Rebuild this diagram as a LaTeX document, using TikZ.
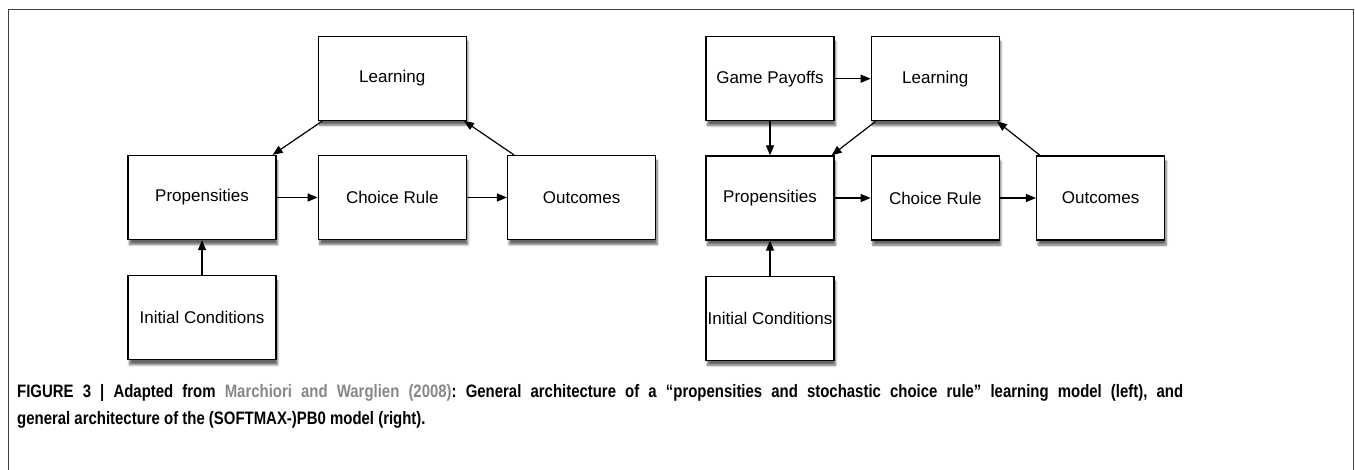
\documentclass[tikz,border=0pt]{standalone}
\usepackage{fontspec}
\setmainfont{Liberation Sans}
\newfontfamily\capfont[FakeStretch=0.83]{Liberation Sans}
\usetikzlibrary{positioning,arrows.meta,shadows.blur}
\definecolor{citegray}{RGB}{135,135,135}
\frenchspacing
\tikzset{
  block/.style={draw, line width=1.3pt, fill=white, minimum width=148pt,
    minimum height=84pt, inner sep=0pt, font=\fontsize{17}{20}\selectfont,
    blur shadow={shadow xshift=1.5pt, shadow yshift=-5pt, shadow blur steps=8, shadow opacity=60}},
  narrow/.style={block, minimum width=128pt},
  link/.style={-{Triangle[length=10pt,width=8pt]}, line width=1.2pt},
  capline/.style={anchor=base west, inner sep=0pt, font=\capfont\bfseries\fontsize{18}{21}\selectfont}
}
\begin{document}
\begin{tikzpicture}[x=1pt,y=1pt]
\useasboundingbox (0,0) rectangle (1355,-470);
\draw [black!75, line width=1pt] (8,-471) -- (8,-10) -- (1353,-10) -- (1353,-471);
% left model
\node (propL) [block] at (202,-197.5) {Propensities};
\node (choiceL) [block, right=41pt of propL] {Choice Rule};
\node (outL) [block, right=40pt of choiceL] {Outcomes};
\node (learnL) [block, above=34pt of choiceL] {Learning};
\node (initL) [block, below=35pt of propL] {Initial Conditions};
\draw [link] (propL) -- (choiceL);
\draw [link] (choiceL) -- (outL);
\draw [link] (initL) -- (propL);
\draw [link] ([xshift=5pt]learnL.south west) -- ([xshift=-4pt]propL.north east);
\draw [link] ([xshift=7pt]outL.north west) -- ([xshift=-3pt]learnL.south east);
% right model (PB0)
\node (propR) [narrow] at (770,-198) {Propensities};
\node (choiceR) [narrow, right=36pt of propR] {Choice Rule};
\node (outR) [narrow, right=36pt of choiceR] {Outcomes};
\node (learnR) [narrow, above=34pt of choiceR] {Learning};
\node (gameR) [narrow, above=34pt of propR] {Game Payoffs};
\node (initR) [narrow, below=35pt of propR] {Initial Conditions};
\draw [link] (propR) -- (choiceR);
\draw [link] (choiceR) -- (outR);
\draw [link] (initR) -- (propR);
\draw [link] (gameR) -- (learnR);
\draw [link] (gameR) -- (propR);
\draw [link] ([xshift=5pt]learnR.south west) -- ([xshift=-3pt]propR.north east);
\draw [link] ([xshift=4pt]outR.north west) -- ([xshift=-3pt]learnR.south east);
% caption
\node (cap1) [capline] at (17,-397) {\makebox[1166pt][s]{FIGURE 3 | Adapted from \textcolor{citegray}{Marchiori and Warglien (2008)}: General architecture of a “propensities and stochastic choice rule” learning model (left), and}};
\node (cap2) [capline] at (17,-424) {general architecture of the (SOFTMAX-)PB0 model (right).};
\end{tikzpicture}
\end{document}
